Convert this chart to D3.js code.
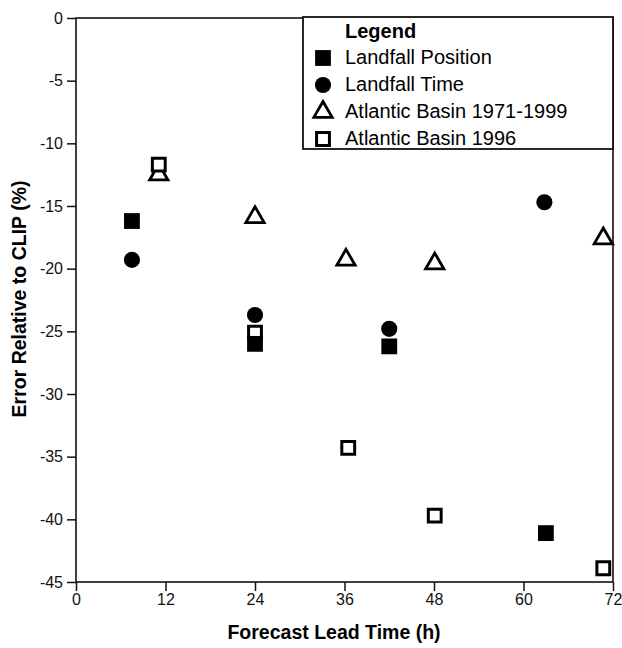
<!DOCTYPE html>
<html>
<head>
<meta charset="utf-8">
<script src="https://cdn.jsdelivr.net/npm/d3@7"></script>
<style>
  body { margin: 0; background: #fff; }
  svg { font-family: "Liberation Sans", Arial, Helvetica, sans-serif; }
</style>
</head>
<body>
<svg id="chart" width="622" height="648"></svg>
<script>

// values
var xTicks = [0, 12, 24, 36, 48, 60, 72]
var yTicks = [0, -5, -10, -15, -20, -25, -30, -35, -40, -45]

var posHours = [7.5, 24, 42, 63]
var posError = [-16.2, -26.0, -26.2, -41.1]

var timeHours = [7.5, 24, 42, 62.8]
var timeError = [-19.3, -23.7, -24.8, -14.7]

var basinHours = [11.1, 24, 36.2, 48.1, 70.7]
var basinError = [-12.5, -15.9, -19.3, -19.6, -17.6]

var b96Hours = [11.1, 24, 36.5, 48.1, 70.7]
var b96Error = [-11.7, -25.1, -34.3, -39.7, -43.9]

var seriesNames = ["Landfall Position", "Landfall Time", "Atlantic Basin 1971-1999", "Atlantic Basin 1996"]

var svg = d3.select("#chart")
var plotL = 76, plotR = 613, plotT = 18, plotB = 582

var x = d3.scaleLinear().domain([0, 72]).range([plotL, plotR])
var y = d3.scaleLinear().domain([-45, 0]).range([plotB, plotT])

// frame
svg.append("rect").attr("x", plotL).attr("y", plotT)
    .attr("width", plotR - plotL).attr("height", plotB - plotT)
    .attr("fill", "none").attr("stroke", "#111").attr("stroke-width", 1.6)

var yAxis = svg.append("g").attr("transform", "translate(" + plotL + ",0)")
    .call(d3.axisLeft(y).tickValues(yTicks).tickSize(9).tickPadding(4).tickFormat(d3.format("d")))
var xAxis = svg.append("g").attr("transform", "translate(0," + plotB + ")")
    .call(d3.axisBottom(x).tickValues(xTicks).tickSize(9).tickPadding(3))

svg.selectAll(".domain").remove()
svg.selectAll(".tick line").attr("stroke", "#111").attr("stroke-width", 1.5)
svg.selectAll(".tick text").attr("font-size", 16).attr("fill", "#111")
    .attr("font-family", "'Liberation Sans', Arial, sans-serif")
yAxis.selectAll(".tick text").text(function(d) { return d == 0 ? "0" : "-" + Math.abs(d) })

// axis titles
svg.append("text").attr("x", 334).attr("y", 639).attr("text-anchor", "middle")
    .attr("font-size", 19.5).attr("font-weight", "bold").text("Forecast Lead Time (h)")
svg.append("text").attr("transform", "translate(26,299) rotate(-90)").attr("text-anchor", "middle")
    .attr("font-size", 19.5).attr("font-weight", "bold").text("Error Relative to CLIP (%)")

// marker styles
var sym = {
    fsquare: d3.symbol().type(d3.symbolSquare).size(250)(),
    circle: d3.symbol().type(d3.symbolCircle).size(205)(),
    triangle: d3.symbol().type(d3.symbolTriangle).size(145)(),
    osquare: d3.symbol().type(d3.symbolSquare).size(165)()
}
function drawMarker(g, kind) {
    var p = g.append("path").attr("d", sym[kind])
    if (kind == "fsquare" || kind == "circle") {
        p.attr("fill", "#000")
    } else {
        p.attr("fill", "#fff").attr("stroke", "#000").attr("stroke-width", kind == "osquare" ? 3 : 2.8)
    }
    return p
}

function plotSeries(hours, errs, kind) {
    var data = d3.zip(hours, errs)
    svg.append("g").selectAll("g").data(data).enter().append("g")
        .attr("transform", function(d) { return "translate(" + x(d[0]) + "," + y(d[1]) + ")" })
        .each(function() { drawMarker(d3.select(this), kind) })
}

plotSeries(basinHours, basinError, "triangle")
plotSeries(b96Hours, b96Error, "osquare")
plotSeries(posHours, posError, "fsquare")
plotSeries(timeHours, timeError, "circle")

// legend
var lg = svg.append("g")
lg.append("rect").attr("x", 303).attr("y", 17).attr("width", 310).attr("height", 132)
    .attr("fill", "#fff").attr("stroke", "#111").attr("stroke-width", 1.8)
lg.append("text").attr("x", 345).attr("y", 38).attr("font-size", 20).attr("font-weight", "bold").text("Legend")
var kinds = ["fsquare", "circle", "triangle", "osquare"]
seriesNames.forEach(function(name, i) {
    var yy = 64 + i * 27
    var m = lg.append("g").attr("transform", "translate(323," + (yy - 6) + ")")
    drawMarker(m, kinds[i])
    lg.append("text").attr("x", 345).attr("y", yy).attr("font-size", 20).text(name)
})

</script>
</body>
</html>
